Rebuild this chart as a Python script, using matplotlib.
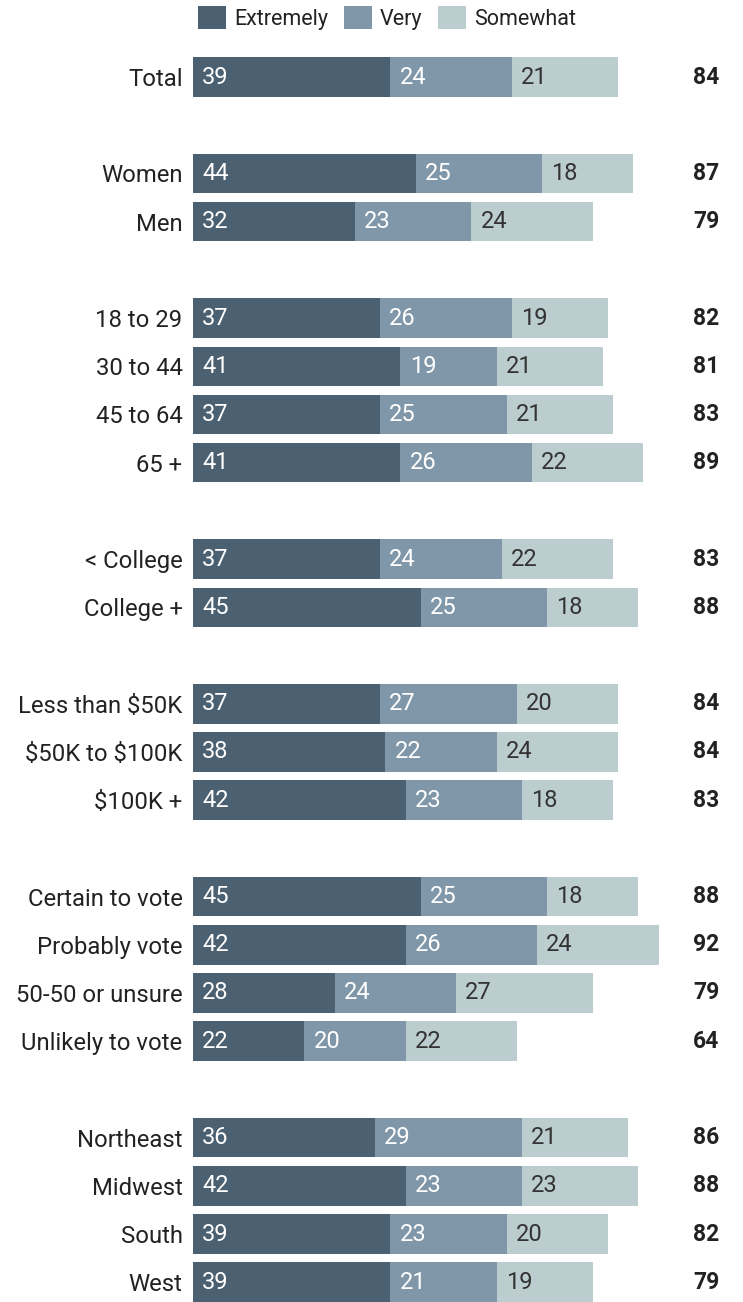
import matplotlib.pyplot as plt

plt.rcParams['font.family'] = ['Roboto', 'DejaVu Sans']

groups = [
    ["Total"],
    ["Women", "Men"],
    ["18 to 29", "30 to 44", "45 to 64", "65 +"],
    ["< College", "College +"],
    [r"Less than \$50K", r"\$50K to \$100K", r"\$100K +"],
    ["Certain to vote", "Probably vote", "50-50 or unsure", "Unlikely to vote"],
    ["Northeast", "Midwest", "South", "West"],
]

extremely = [39, 44, 32, 37, 41, 37, 41, 37, 45, 37, 38, 42, 45, 42, 28, 22, 36, 42, 39, 39]
very = [24, 25, 23, 26, 19, 25, 26, 24, 25, 27, 22, 23, 25, 26, 24, 20, 29, 23, 23, 21]
somewhat = [21, 18, 24, 19, 21, 21, 22, 22, 18, 20, 24, 18, 18, 24, 27, 22, 21, 23, 20, 19]
totals = [84, 87, 79, 82, 81, 83, 89, 83, 88, 84, 84, 83, 88, 92, 79, 64, 86, 88, 82, 79]

series = [
    ("Extremely", extremely, "#4b6070", "white"),
    ("Very", very, "#7f97a8", "white"),
    ("Somewhat", somewhat, "#bccdd0", "#333333"),
]

# one empty row between groups
labels, ypos = [], []
row = 0
for g in groups:
    for name in g:
        labels.append(name)
        ypos.append(row)
        row += 1
    row += 1

fig = plt.figure(figsize=(7.43, 13.02), dpi=100)
ax = fig.add_axes([193 / 743, 0, 550 / 743, 1])

left = [0] * len(labels)
for name, vals, color, txt_color in series:
    ax.barh(ypos, vals, left=left, height=0.82, color=color, label=name)
    for y, l, v in zip(ypos, left, vals):
        ax.text(l + 1.8, y, str(v), ha='left', va='center',
                fontsize=17, color=txt_color)
    left = [a + b for a, b in zip(left, vals)]

for y, t in zip(ypos, totals):
    ax.text(104.0, y, str(t), ha='right', va='center',
            fontsize=16.5, fontweight='bold', color='#222222')

ax.set_xlim(0, 550 / 5.06)
ax.set_ylim(25.41, -1.598)
ax.set_yticks(ypos)
ax.set_yticklabels(labels, fontsize=17.2, color='#222222')
ax.tick_params(axis='y', length=0, pad=7.5)
ax.set_xticks([])
for s in ax.spines.values():
    s.set_visible(False)

leg = ax.legend(loc='upper left', bbox_to_anchor=(-0.006, 1.002), ncol=3,
                frameon=False, fontsize=15.5, handlelength=1.3, handleheight=1.3,
                handletextpad=0.35, columnspacing=0.75, borderaxespad=0)
for t in leg.get_texts():
    t.set_color('#222222')

fig.savefig('out.png', dpi=100)
